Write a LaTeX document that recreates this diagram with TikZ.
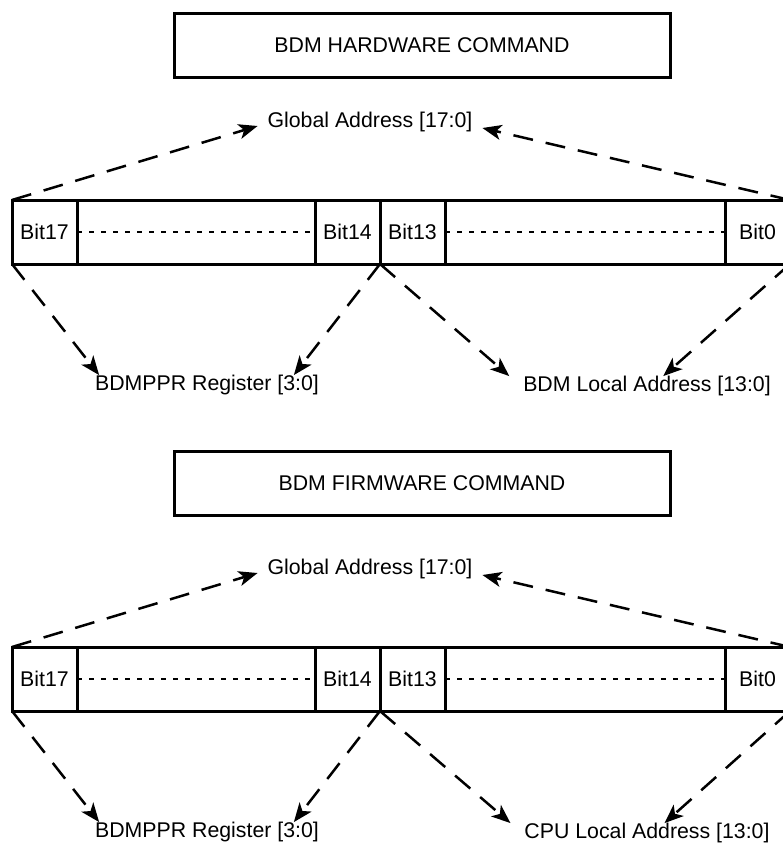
\documentclass[tikz,border=0pt]{standalone}
\usepackage{fontspec}
\setmainfont{Liberation Sans}
\usetikzlibrary{arrows.meta, positioning}

\tikzset{
    cmdbox/.style={draw, line width=3pt, minimum width=496pt, minimum height=64pt, inner sep=0pt, outer sep=0pt},
    cell/.style={draw, line width=3pt, minimum height=64pt, inner sep=0pt, outer sep=0pt, anchor=west},
    lbl/.style={inner sep=0pt, outer sep=0pt},
    dotline/.style={line width=2.6pt, dash pattern=on 5pt off 7pt},
    dasharrow/.style={->, line width=2.5pt, dash pattern=on 20pt off 13pt}
}

\begin{document}
\begin{tikzpicture}[x=1pt, y=-1pt, >={Stealth[length=19pt, width=15pt, inset=5pt]},
    font=\fontsize{21.3}{25}\selectfont]
    \useasboundingbox (0,0) rectangle (783,846);

    % hardware (top) and firmware (bottom) command
    \foreach \s/\dy/\by/\kind/\pre in {hw/0/0/HARDWARE/BDM, fw/447/438/FIRMWARE/CPU}{
        \node[cmdbox] (\s-cmd) at (422,{45+\by}) {BDM \kind\ COMMAND};

        % address bits
        \node[cell, minimum width=65pt] (\s-b17) at (12,{232+\dy}) {Bit17};
        \node[cell, minimum width=238pt, right=0pt of \s-b17] (\s-m1) {};
        \node[cell, minimum width=65pt, right=0pt of \s-m1] (\s-b14) {Bit14};
        \node[cell, minimum width=65pt, right=0pt of \s-b14] (\s-b13) {Bit13};
        \node[cell, minimum width=280pt, right=0pt of \s-b13] (\s-m2) {};
        \node[cell, minimum width=65pt, right=0pt of \s-m2] (\s-b0) {Bit0};
        \draw[dotline] (\s-b17.east) -- (\s-b14.west);
        \draw[dotline] (\s-b13.east) -- (\s-b0.west);

        % labels
        \node[lbl] (\s-glob) at (370,{122+\dy}) {Global Address [17:0]};
        \node[lbl] (\s-ppr) at (207,{385+\dy}) {BDMPPR Register [3:0]};
        \node[lbl] (\s-loc) at (647,{386+\dy}) {\pre\ Local Address [13:0]};

        \draw[dasharrow] (\s-b17.north west) -- ([xshift=-10pt, yshift=-4pt]\s-glob.west);
        \draw[dasharrow] (\s-b0.north east) -- ([xshift=10pt, yshift=-6pt]\s-glob.east);
        \draw[dasharrow] (\s-b17.south west) -- ([xshift=4pt]\s-ppr.north west);
        \draw[dasharrow] (\s-b14.south east) -- ([xshift=-25pt]\s-ppr.north east);
        \draw[dasharrow] (\s-b13.south west) -- ([xshift=-14pt]\s-loc.north west);
        \draw[dasharrow] (\s-b0.south east) -- ([xshift=140pt]\s-loc.north west);
    }
\end{tikzpicture}
\end{document}
